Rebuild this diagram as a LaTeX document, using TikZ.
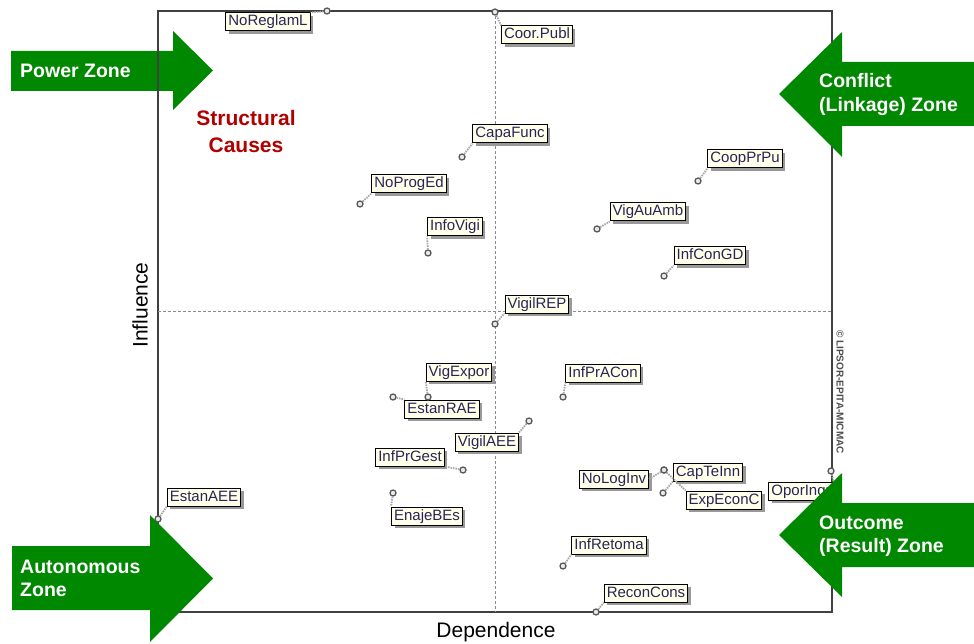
\documentclass[tikz,border=0pt]{standalone}
\usepackage{fontspec}
\setmainfont{Liberation Sans}
\usetikzlibrary{shadows}
\definecolor{zonegreen}{RGB}{0,136,0}
\definecolor{causered}{RGB}{176,0,0}
\definecolor{tagfill}{RGB}{255,255,234}
\definecolor{tagtext}{RGB}{40,36,90}
\begin{document}
\begin{tikzpicture}[x=1pt,y=-1pt,
  tag/.style={draw=black, line width=1pt, fill=tagfill, text=tagtext,
    font=\fontsize{15}{15}\selectfont, inner xsep=2.5pt, inner ysep=2pt,
    text height=11pt, text depth=3pt,
    drop shadow={shadow xshift=3pt, shadow yshift=-3pt, fill=black!40, opacity=1}},
  pt/.style={circle, draw=black!65, fill=black!8, line width=1.3pt, inner sep=0pt, minimum size=6pt},
  lead/.style={draw=black!35, line width=1.8pt, dash pattern=on 1.5pt off 1pt},
  zone/.style={fill=zonegreen},
  zonetext/.style={text=white, font=\bfseries\fontsize{19.5}{23.5}\selectfont, align=left, anchor=west, inner sep=0pt},
  axislabel/.style={font=\fontsize{21}{21}\selectfont, text=black, inner sep=0pt},
  quad/.style={draw=black!45, line width=0.8pt, dash pattern=on 3pt off 2pt}
]
\useasboundingbox (0,0) rectangle (974,644);

% power zone arrow sits beneath the frame
\fill[zone] (11,51) -- (173,51) -- (173,31) -- (213,70.5) -- (173,110) -- (173,91) -- (11,91) -- cycle;

% frame and quadrant separators
\draw[black!75, line width=1.3pt] (158,11) rectangle (832,612);
\draw[quad] (495,11) -- (495,612);
\draw[quad] (158,311) -- (832,311);

% axis titles
\node[axislabel, rotate=90] (infl) at (140,305) {Influence};
\node[axislabel] (dep) at (496,632) {Dependence};
\node[rotate=-90, font=\bfseries\fontsize{10}{10}\selectfont, text=black!70, inner sep=0pt] (copy) at (840,392) {© LIPSOR-EPITA-MICMAC};

% variable labels
\node[tag] (tNoReglamL) at (268,22) {NoReglamL};
\node[tag] (tCoorPubl) at (537,35) {Coor.Publ};
\node[tag] (tCapaFunc) at (510,134) {CapaFunc};
\node[tag] (tNoProgEd) at (409,184) {NoProgEd};
\node[tag] (tInfoVigi) at (455,227) {InfoVigi};
\node[tag] (tCoopPrPu) at (745,159) {CoopPrPu};
\node[tag] (tVigAuAmb) at (648,212) {VigAuAmb};
\node[tag] (tInfConGD) at (710,256) {InfConGD};
\node[tag] (tVigilREP) at (537,304) {VigilREP};
\node[tag] (tVigExpor) at (459,372) {VigExpor};
\node[tag] (tEstanRAE) at (442,409) {EstanRAE};
\node[tag] (tInfPrACon) at (603,373) {InfPrACon};
\node[tag] (tVigilAEE) at (487,442) {VigilAEE};
\node[tag] (tInfPrGest) at (410,457) {InfPrGest};
\node[tag] (tEnajeBEs) at (427,516) {EnajeBEs};
\node[tag] (tEstanAEE) at (204,497) {EstanAEE};
\node[tag] (tNoLogInv) at (614,479) {NoLogInv};
\node[tag] (tCapTeInn) at (708,472) {CapTeInn};
\node[tag] (tExpEconC) at (724,500) {ExpEconC};
\node[tag] (tOporIngr) at (801,491) {OporIngr};
\node[tag] (tInfRetoma) at (609,545) {InfRetoma};
\node[tag] (tReconCons) at (646,593) {ReconCons};

% variable positions
\node[pt] (pNoReglamL) at (327,11) {};
\node[pt] (pCoorPubl) at (495,12) {};
\node[pt] (pCapaFunc) at (462,157) {};
\node[pt] (pNoProgEd) at (360,204) {};
\node[pt] (pInfoVigi) at (428,253) {};
\node[pt] (pCoopPrPu) at (698,181) {};
\node[pt] (pVigAuAmb) at (597,229) {};
\node[pt] (pInfConGD) at (664,276) {};
\node[pt] (pVigilREP) at (495,324) {};
\node[pt] (pVigExpor) at (428,397) {};
\node[pt] (pEstanRAE) at (393,397) {};
\node[pt] (pInfPrACon) at (563,397) {};
\node[pt] (pVigilAEE) at (529,421) {};
\node[pt] (pInfPrGest) at (463,470) {};
\node[pt] (pEnajeBEs) at (393,493) {};
\node[pt] (pEstanAEE) at (158,519) {};
\node[pt] (pNoLogInv) at (664,470) {};
\node[pt] (pCapTeInn) at (663,493) {};
\node[pt] (pExpEconC) at (664,470) {};
\node[pt] (pOporIngr) at (831,471) {};
\node[pt] (pInfRetoma) at (563,566) {};
\node[pt] (pReconCons) at (596,612) {};

% leaders from each position to its label
\draw[lead] (pNoReglamL) -- (tNoReglamL.north east);
\draw[lead] (pCoorPubl) -- (tCoorPubl.north west);
\draw[lead] (pCapaFunc) -- (tCapaFunc.south west);
\draw[lead] (pNoProgEd) -- (tNoProgEd.south west);
\draw[lead] (pInfoVigi) -- (tInfoVigi.south west);
\draw[lead] (pCoopPrPu) -- (tCoopPrPu.south west);
\draw[lead] (pVigAuAmb) -- (tVigAuAmb.south west);
\draw[lead] (pInfConGD) -- (tInfConGD.south west);
\draw[lead] (pVigilREP) -- (tVigilREP.south west);
\draw[lead] (pVigExpor) -- (tVigExpor.south west);
\draw[lead] (pEstanRAE) -- (tEstanRAE.north west);
\draw[lead] (pInfPrACon) -- (tInfPrACon.south west);
\draw[lead] (pVigilAEE) -- (tVigilAEE.north east);
\draw[lead] (pInfPrGest) -- (tInfPrGest.south east);
\draw[lead] (pEnajeBEs) -- (tEnajeBEs.north west);
\draw[lead] (pEstanAEE) -- (tEstanAEE.south west);
\draw[lead] (pNoLogInv) -- (tNoLogInv.east);
\draw[lead] (pCapTeInn) -- (tCapTeInn.south west);
\draw[lead] (pExpEconC) -- (tExpEconC.north west);
\draw[lead] (pOporIngr) -- (tOporIngr.north east);
\draw[lead] (pInfRetoma) -- (tInfRetoma.south west);
\draw[lead] (pReconCons) -- (tReconCons.south west);

% remaining zone arrows lie over the frame
\fill[zone] (974,62) -- (842,62) -- (842,32) -- (779,94) -- (842,157) -- (842,126) -- (974,126) -- cycle;
\fill[zone] (974,503) -- (842,503) -- (842,473) -- (779,535) -- (842,597) -- (842,567) -- (974,567) -- cycle;
\fill[zone] (12,546) -- (150,546) -- (150,515) -- (213,578.5) -- (150,642) -- (150,610) -- (12,610) -- cycle;

% zone captions
\node[zonetext] (zPower) at (20,71) {Power Zone};
\node[zonetext] (zConflict) at (819,94.5) {Conflict\\(Linkage) Zone};
\node[zonetext] (zOutcome) at (819,536) {Outcome\\(Result) Zone};
\node[zonetext] (zAuto) at (20,578.5) {Autonomous\\Zone};

\node[text=causered, font=\bfseries\fontsize{21}{27}\selectfont, align=center, inner sep=0pt] (causes) at (246,131) {Structural\\Causes};
\end{tikzpicture}
\end{document}
